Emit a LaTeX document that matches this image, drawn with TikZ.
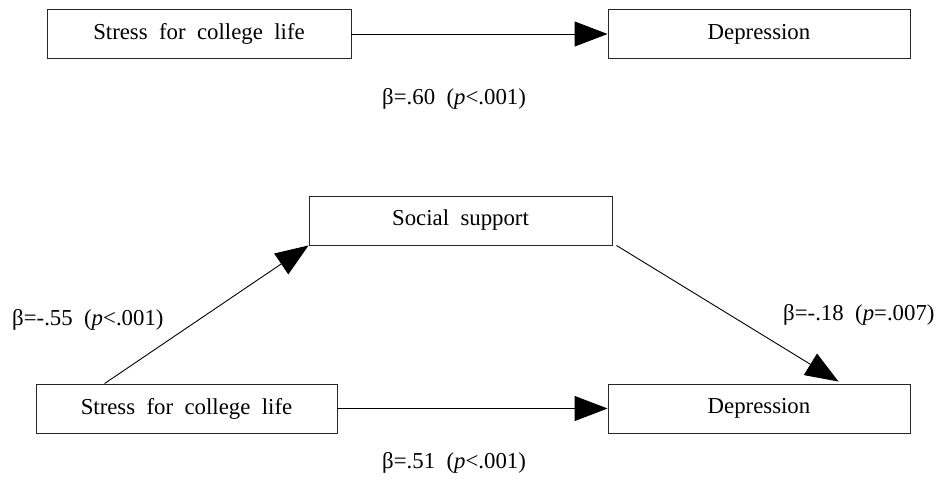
\documentclass[tikz,border=0pt]{standalone}
\usepackage{fontspec}
\setmainfont{Liberation Serif}
\usetikzlibrary{arrows.meta}
\begin{document}
\begin{tikzpicture}[x=1pt,y=-1pt,
  every node/.style={font=\fontsize{22.8}{27}\selectfont, inner sep=0pt},
  varbox/.style={draw=black!85, line width=0.9pt, minimum height=49pt, fill=white},
  path/.style={line width=0.9pt, -{Triangle[length=33pt,width=25pt]}},
  lbl/.style={anchor=west}]
\useasboundingbox (0,0) rectangle (943,480);
% top model
\node[varbox, minimum width=304pt] (ts) at (199,34) {Stress~~for~~college~~life};
\node[varbox, minimum width=302pt] (td) at (759,34) {Depression};
\draw[path] (ts) -- (td);
\node[lbl] (l60) at (382,99) {β=.60~~(\textit{p}<.001)};
% bottom model
\node[varbox, minimum width=303pt] (ss) at (460.5,220.5) {Social~~support};
\node[varbox, minimum width=301pt] (bs) at (186.5,408.5) {Stress~~for~~college~~life};
\node[varbox, minimum width=302pt] (bd) at (759,408.5) {Depression};
\draw[path] (bs) -- (bd);
\draw[path] ([xshift=69pt]bs.north west) -- (ss.south west);
\draw[path] ([xshift=4pt]ss.south east) -- ([xshift=231pt,yshift=2pt]bd.north west);
\node[lbl] (l55) at (12,320) {β=-.55~~(\textit{p}<.001)};
\node[lbl] (l18) at (783,315) {β=-.18~~(\textit{p}=.007)};
\node[lbl] (l51) at (382,463) {β=.51~~(\textit{p}<.001)};
\end{tikzpicture}
\end{document}
